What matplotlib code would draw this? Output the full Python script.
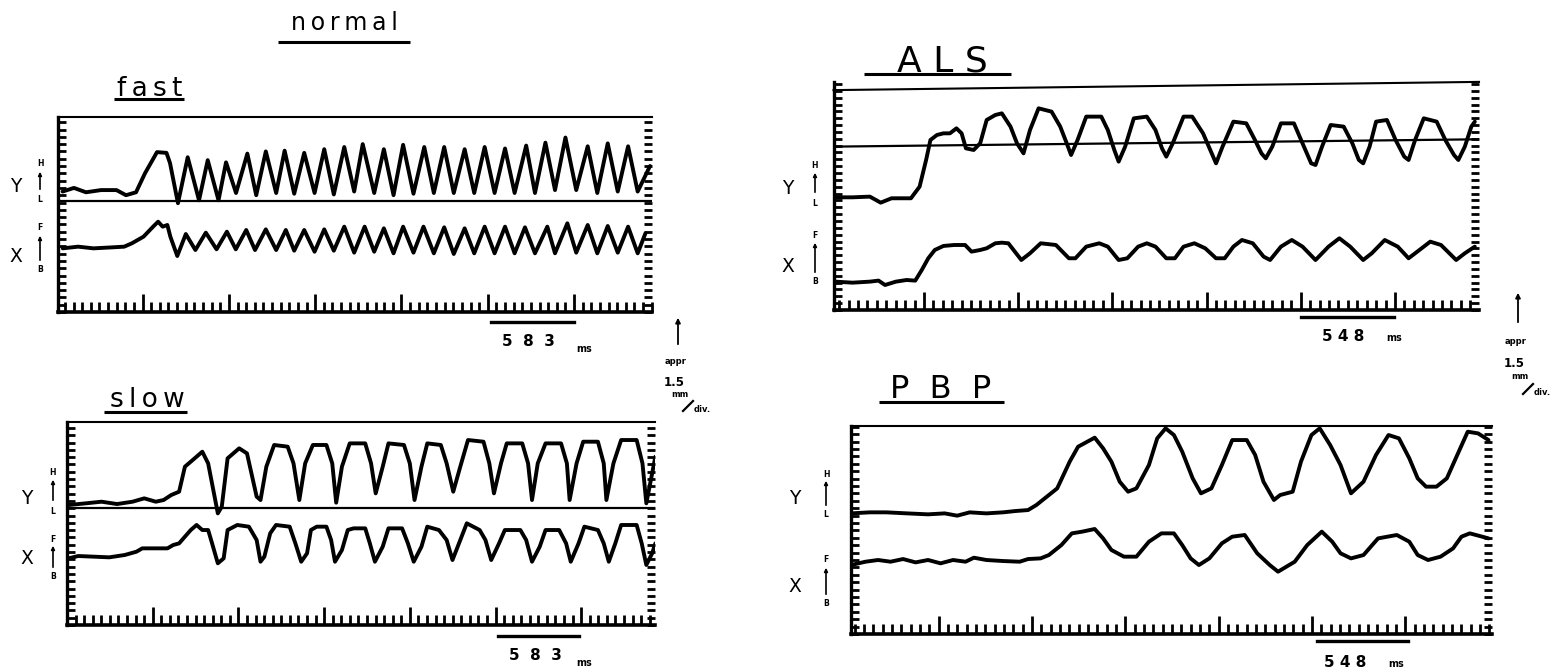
import numpy as np
import matplotlib
matplotlib.use("Agg")
import matplotlib.pyplot as plt
from matplotlib.ticker import FixedLocator, MultipleLocator

W, H = 1563, 672

# traces: (time in ruler divisions, displacement in ruler divisions)
fast_y = [(0.54, 16.5), (1.85, 17.0), (3.24, 16.4), (4.98, 16.7), (6.78, 16.7), (7.88, 16.0),
          (9.04, 16.4), (10.08, 19.0), (11.47, 21.9), (12.57, 21.8), (12.98, 20.4), (13.90, 14.9),
          (15.03, 21.2), (16.34, 15.3), (17.35, 20.8), (18.60, 15.3), (19.47, 20.5), (20.63, 16.3),
          (21.94, 21.7), (22.97, 16.0), (24.08, 22.0), (25.28, 16.3), (26.26, 22.1), (27.37, 16.2),
          (28.53, 21.8), (29.73, 16.3), (30.85, 22.3), (31.96, 16.1), (33.17, 22.6), (34.32, 16.5),
          (35.31, 23.0), (36.64, 16.3), (37.76, 22.3), (38.88, 16.0), (39.99, 22.9), (41.19, 16.2),
          (42.44, 22.6), (43.55, 16.3), (44.75, 22.6), (45.86, 16.3), (47.12, 22.3), (48.23, 16.3),
          (49.44, 22.6), (50.59, 16.3), (51.80, 22.4), (52.91, 16.3), (54.25, 22.8), (55.27, 16.3),
          (56.48, 23.2), (57.59, 16.7), (58.80, 23.9), (60.05, 16.7), (61.38, 22.7), (62.49, 16.3),
          (63.70, 23.1), (64.86, 16.5), (66.06, 22.7), (67.17, 16.5), (68.6, 20.0)]
fast_x = [(0.55, 8.72), (2.33, 8.95), (4.11, 8.72), (6.34, 8.86), (7.67, 8.95), (8.56, 9.41),
          (9.91, 10.32), (11.02, 11.69), (11.60, 12.37), (12.13, 11.69), (12.67, 11.92), (13.02, 10.32),
          (13.82, 7.67), (14.81, 10.68), (15.92, 8.49), (17.13, 10.87), (18.37, 8.59), (19.57, 11.0),
          (20.60, 8.59), (21.81, 11.23), (22.83, 8.49), (24.08, 11.32), (25.28, 8.49), (26.40, 11.23),
          (27.37, 8.40), (28.53, 11.23), (29.73, 8.26), (30.85, 11.32), (31.96, 8.40), (33.17, 11.69),
          (34.32, 8.13), (35.53, 11.69), (36.64, 8.26), (37.76, 11.46), (38.88, 8.04), (39.99, 11.69),
          (41.19, 8.13), (42.35, 11.69), (43.55, 8.04), (44.75, 11.60), (45.86, 7.95), (47.12, 11.46),
          (48.23, 8.04), (49.44, 11.69), (50.59, 8.04), (51.80, 11.69), (52.91, 8.04), (54.11, 11.60),
          (55.27, 8.04), (56.70, 11.69), (57.59, 8.04), (59.02, 12.15), (60.05, 8.13), (61.38, 11.92),
          (62.49, 8.04), (63.70, 11.78), (64.86, 8.13), (66.06, 11.69), (67.17, 8.04), (68.07, 10.78)]

slow_y = [(0.18, 16.44), (2.22, 16.67), (4.03, 16.89), (5.84, 16.57), (7.65, 16.89), (9.01, 17.35),
          (10.36, 16.89), (11.27, 17.12), (12.17, 17.81), (13.08, 18.26), (13.76, 21.69), (14.44, 22.37),
          (15.79, 23.74), (16.47, 22.14), (17.60, 15.29), (18.06, 16.21), (18.74, 22.83), (20.09, 24.20),
          (21.0, 23.51), (22.13, 17.58), (22.58, 17.12), (23.26, 21.69), (24.17, 24.66), (25.75, 24.43),
          (26.43, 22.14), (27.11, 17.12), (27.79, 22.14), (28.69, 24.66), (30.27, 24.66), (30.95, 22.14),
          (31.41, 16.76), (32.08, 21.69), (32.99, 24.88), (34.80, 24.88), (35.48, 22.14), (36.02, 18.03),
          (36.84, 21.69), (37.51, 24.88), (39.32, 24.66), (40.0, 22.14), (40.55, 17.12), (41.36, 21.69),
          (42.04, 24.88), (43.62, 24.66), (44.30, 22.14), (45.07, 18.26), (45.89, 21.69), (46.79, 25.34),
          (48.60, 25.11), (49.28, 22.14), (49.82, 18.03), (50.64, 22.14), (51.31, 24.88), (53.12, 24.88),
          (53.80, 22.14), (54.26, 17.12), (54.93, 22.14), (55.84, 24.88), (57.65, 24.88), (58.33, 22.14),
          (58.65, 17.12), (59.46, 22.14), (60.23, 25.11), (61.95, 25.11), (62.63, 22.14), (62.94, 17.12),
          (63.76, 22.14), (64.66, 25.34), (66.47, 25.34), (67.15, 22.14), (67.60, 16.67), (68.28, 20.77),
          (68.65, 23.06)]
slow_x = [(0.18, 9.13), (1.31, 9.45), (3.12, 9.36), (4.93, 9.27), (6.74, 9.59), (8.10, 10.04),
          (8.78, 10.50), (11.72, 10.50), (12.40, 10.96), (13.08, 11.18), (13.76, 12.10), (14.44, 13.01),
          (15.12, 13.70), (15.79, 13.01), (16.47, 13.01), (16.93, 11.18), (17.60, 8.45), (18.28, 9.13),
          (18.74, 13.01), (19.87, 13.70), (21.22, 13.47), (22.13, 11.64), (22.58, 8.67), (23.03, 9.36),
          (23.71, 12.56), (24.39, 13.70), (25.98, 13.47), (26.65, 11.18), (27.33, 8.67), (28.01, 9.82),
          (28.46, 13.01), (29.14, 13.47), (30.27, 13.47), (30.82, 11.64), (31.27, 8.67), (32.08, 10.27),
          (32.76, 13.01), (33.44, 13.24), (34.80, 13.24), (35.34, 11.18), (35.93, 8.67), (36.84, 10.73),
          (37.51, 13.24), (39.10, 13.24), (39.78, 11.18), (40.46, 8.67), (41.36, 10.73), (42.04, 13.47),
          (43.40, 13.01), (44.30, 11.64), (44.98, 8.90), (45.89, 11.64), (46.65, 13.93), (48.15, 13.01),
          (48.83, 11.64), (49.50, 8.90), (50.41, 11.18), (51.09, 13.01), (52.90, 13.01), (53.58, 11.64),
          (54.26, 8.67), (55.16, 10.73), (55.84, 13.01), (57.43, 13.01), (58.24, 11.18), (58.78, 8.67),
          (59.69, 11.18), (60.37, 13.47), (61.95, 13.01), (62.63, 11.18), (63.22, 8.67), (63.98, 11.18),
          (64.66, 13.70), (66.47, 13.70), (67.06, 11.18), (67.60, 8.22), (68.28, 9.82), (68.65, 11.18)]

als_y = [(0.19, 16.45), (2.02, 16.45), (3.86, 16.55), (5.01, 15.67), (6.16, 16.31), (8.22, 16.31),
         (9.14, 18.01), (9.83, 21.90), (10.29, 24.82), (10.98, 25.55), (11.67, 25.79), (12.36, 25.79),
         (13.05, 26.52), (13.60, 25.79), (14.06, 23.60), (14.88, 23.36), (15.57, 24.33), (16.26, 27.74),
         (17.18, 28.47), (17.87, 28.71), (18.79, 26.77), (19.48, 24.33), (20.17, 22.87), (20.86, 26.28),
         (21.77, 29.44), (23.15, 28.96), (24.07, 26.77), (24.76, 24.33), (25.22, 22.63), (25.91, 24.82),
         (26.83, 28.23), (28.43, 28.23), (29.12, 26.28), (29.81, 23.36), (30.27, 21.66), (30.96, 23.85),
         (31.88, 27.98), (33.26, 28.23), (34.18, 26.28), (34.87, 23.60), (35.33, 22.39), (36.01, 24.33),
         (37.16, 28.23), (38.08, 28.23), (39.23, 25.79), (40.15, 22.87), (40.61, 21.41), (41.30, 23.85),
         (42.45, 27.50), (43.82, 27.25), (44.74, 24.82), (45.43, 22.87), (45.89, 22.14), (46.58, 23.85),
         (47.50, 27.25), (48.88, 27.25), (49.79, 24.33), (50.71, 21.41), (51.17, 21.17), (51.86, 23.85),
         (52.78, 27.01), (54.16, 26.77), (55.08, 24.33), (55.77, 21.90), (56.23, 21.41), (56.91, 23.85),
         (57.60, 27.50), (58.75, 27.74), (59.67, 24.82), (60.59, 22.39), (61.05, 21.90), (61.74, 24.82),
         (62.66, 27.98), (64.03, 27.50), (64.95, 24.82), (65.87, 22.63), (66.33, 21.90), (67.02, 23.85),
         (67.71, 26.77), (68.08, 27.50)]
als_x = [(0.19, 4.14), (2.02, 3.99), (3.86, 4.14), (4.78, 4.29), (5.47, 3.65), (6.62, 4.14),
         (7.76, 4.38), (8.68, 4.29), (9.37, 5.84), (10.06, 7.55), (10.75, 8.76), (11.67, 9.35),
         (12.82, 9.49), (13.97, 9.49), (14.65, 8.52), (15.57, 8.76), (16.26, 9.01), (17.18, 9.74),
         (17.87, 9.83), (18.56, 9.74), (19.94, 7.30), (20.86, 8.28), (22.00, 9.74), (23.61, 9.49),
         (24.99, 7.55), (25.68, 7.55), (26.83, 9.25), (28.21, 9.74), (29.12, 9.25), (30.27, 7.30),
         (31.19, 7.55), (32.34, 9.25), (33.26, 9.74), (34.18, 9.25), (35.33, 7.55), (36.24, 7.55),
         (37.16, 9.25), (38.31, 9.74), (39.46, 9.01), (40.61, 7.55), (41.53, 7.55), (42.45, 9.25),
         (43.36, 10.22), (44.51, 9.74), (45.66, 7.79), (46.35, 7.30), (47.50, 9.25), (48.65, 10.22),
         (49.79, 9.25), (51.17, 7.30), (52.55, 9.25), (53.70, 10.47), (54.85, 9.25), (56.23, 7.30),
         (57.14, 8.28), (58.52, 10.22), (59.90, 9.25), (61.05, 7.55), (62.20, 8.76), (63.35, 9.98),
         (64.49, 9.49), (66.10, 7.30), (67.02, 8.28), (68.08, 9.25)]

pbp_y = [(0.0, 16.30), (2.0, 16.44), (3.79, 16.44), (6.02, 16.30), (8.26, 16.17), (10.04, 16.30),
         (11.38, 15.99), (12.72, 16.44), (14.51, 16.30), (16.30, 16.44), (17.64, 16.62), (18.98, 16.75),
         (19.87, 17.43), (21.21, 18.78), (22.10, 19.68), (23.44, 23.29), (24.34, 25.31), (26.12, 26.53),
         (27.02, 25.09), (27.91, 23.29), (28.80, 20.58), (29.70, 19.23), (30.59, 19.68), (31.93, 22.83),
         (32.82, 26.44), (33.72, 27.79), (34.61, 26.89), (35.50, 24.64), (36.62, 21.03), (37.51, 19.01),
         (38.63, 19.68), (39.75, 22.83), (40.86, 26.21), (42.42, 26.21), (43.32, 24.19), (44.21, 20.58),
         (45.33, 18.11), (46.0, 18.78), (47.34, 19.23), (48.23, 23.29), (49.35, 26.89), (50.24, 27.79),
         (51.36, 25.53), (52.47, 22.83), (53.59, 19.01), (54.93, 20.58), (56.27, 24.19), (57.61, 26.89),
         (58.73, 26.44), (59.84, 23.74), (60.74, 21.03), (61.63, 19.91), (62.75, 19.91), (63.86, 21.03),
         (64.98, 24.19), (66.10, 27.34), (67.21, 27.11), (68.33, 26.21)]
pbp_x = [(0.0, 9.32), (1.56, 9.77), (2.90, 10.0), (4.24, 9.77), (5.58, 10.13), (6.92, 9.68),
         (8.26, 10.0), (9.60, 9.55), (10.94, 10.0), (12.28, 9.77), (13.17, 10.31), (14.51, 10.0),
         (16.30, 9.86), (18.08, 9.77), (18.98, 10.13), (20.32, 10.22), (21.21, 10.67), (22.55, 12.02),
         (23.67, 13.60), (24.78, 13.83), (26.12, 14.19), (27.02, 12.92), (27.91, 11.35), (29.25, 10.45),
         (30.59, 10.45), (31.93, 12.47), (33.27, 13.60), (34.61, 13.60), (35.50, 12.02), (36.40, 10.22),
         (37.29, 9.32), (38.41, 10.22), (39.75, 12.25), (40.86, 13.15), (42.20, 13.38), (43.54, 10.90),
         (44.88, 9.32), (45.77, 8.42), (46.67, 9.10), (47.56, 9.77), (48.90, 12.02), (50.46, 13.83),
         (51.58, 12.47), (52.47, 10.90), (53.59, 10.22), (54.93, 10.67), (56.49, 12.92), (58.50, 13.38),
         (59.84, 12.47), (60.74, 10.67), (61.85, 10.0), (63.19, 10.45), (64.53, 11.57), (65.43, 13.15),
         (66.32, 13.60), (67.66, 13.15), (68.33, 12.92)]

# reference (zero) lines, left and right end
fast_ref = [15.2, 15.2]
slow_ref = [16.07, 16.07]
als_ref = [23.85, 24.92]
als_top = [32.1, 33.3]

# time scale bars (divisions) and their labels
fast_bar = [50.2, 59.8]
slow_bar = [50.3, 59.7]
als_bar = [49.6, 59.5]
pbp_bar = [49.9, 59.7]
normal_scale = "5  8  3"
patient_scale = "5 4 8"

fig = plt.figure(figsize=(W / 100, H / 100), dpi=100)
plt.rcParams["font.family"] = ["DejaVu Sans"]

ov = fig.add_axes([0, 0, 1, 1])
ov.set_xlim(0, W)
ov.set_ylim(H, 0)
ov.axis("off")


def panel(left, right, top, bottom, px_x, px_y, tick0, top_spine=True):
    ax = fig.add_axes([left / W, 1 - bottom / H, (right - left) / W, (bottom - top) / H])
    xmax = (right - left) / px_x
    ymax = (bottom - top) / px_y
    ax.set_xlim(0, xmax)
    ax.set_ylim(0, ymax)
    ax.patch.set_alpha(0)
    ax.spines["left"].set_linewidth(2.4)
    ax.spines["bottom"].set_linewidth(2.6)
    ax.spines["top"].set_linewidth(1.5)
    ax.spines["top"].set_visible(top_spine)
    ax.spines["right"].set_visible(False)
    ax.xaxis.set_major_locator(FixedLocator(np.arange(tick0, xmax, 10)))
    ax.xaxis.set_minor_locator(FixedLocator(np.arange(tick0 % 1, xmax, 1)))
    ax.yaxis.set_major_locator(MultipleLocator(1))
    ax.tick_params(axis="x", which="both", direction="in", bottom=True, top=False,
                   labelbottom=False, width=2.0)
    ax.tick_params(axis="x", which="major", length=13)
    ax.tick_params(axis="x", which="minor", length=7)
    ax.tick_params(axis="y", which="major", direction="in", left=True, right=True,
                   labelleft=False, length=5.5, width=2.0)
    return ax, xmax


def trace(ax, pts):
    t, v = zip(*pts)
    ax.plot(t, v, color="black", lw=2.8, solid_joinstyle="round", solid_capstyle="round")


def bar(ax, xs, bottom, top, bar_py):
    yb = (bottom - bar_py) / (bottom - top)
    ax.plot(xs, [yb, yb], color="black", lw=2.4, transform=ax.get_xaxis_transform(), clip_on=False)


def side(xbig, xsmall, y_big, x_big, hl, fb):
    ov.text(xbig, y_big, "Y", fontsize=13.5, ha="center", va="center")
    ov.text(xbig, x_big, "X", fontsize=13.5, ha="center", va="center")
    for letters, ys in ((("H", "L"), hl), (("F", "B"), fb)):
        ov.text(xsmall, ys[0], letters[0], fontsize=5.5, weight="bold", ha="center", va="center")
        ov.text(xsmall, ys[3], letters[1], fontsize=5.5, weight="bold", ha="center", va="center")
        ov.annotate("", xy=(xsmall, ys[2]), xytext=(xsmall, ys[1]),
                    arrowprops=dict(arrowstyle="-|>", lw=1.2, color="black", mutation_scale=5))


def title(x, y, s, size, ux0, ux1, uy):
    ov.text(x, y, s, fontsize=size, ha="center", va="baseline")
    ov.plot([ux0, ux1], [uy, uy], color="black", lw=2.2, solid_capstyle="butt")


def scale_text(x, y, digits, ms_dx, ms_dy):
    ov.text(x, y, digits, fontsize=11, weight="bold", ha="left", va="baseline")
    ov.text(x + ms_dx, y + ms_dy, "ms", fontsize=7, weight="bold", ha="left", va="baseline")


def mm_note(x, head, tail, y_appr, y15, y_mm, y_div):
    ov.annotate("", xy=(x, head), xytext=(x, tail),
                arrowprops=dict(arrowstyle="-|>", lw=1.3, color="black", mutation_scale=7))
    ov.text(x - 2, y_appr, "appr", fontsize=6, weight="bold", ha="center", va="baseline")
    ov.text(x - 4, y15, "1.5", fontsize=8.5, weight="bold", ha="center", va="baseline")
    ov.text(x + 2, y_mm, "mm", fontsize=6, weight="bold", ha="center", va="baseline")
    ov.plot([x + 5, x + 15], [y_div - 1, y_div - 11], color="black", lw=1.6)
    ov.text(x + 16, y_div, "div.", fontsize=6, weight="bold", ha="left", va="baseline")


# normal, fast
ax, xmax = panel(58, 652, 117, 312, 8.63, 7.3, 9.8)
ax.plot([0, xmax], fast_ref, color="black", lw=1.6)
trace(ax, fast_y)
trace(ax, fast_x)
bar(ax, fast_bar, 312, 117, 321.7)

# normal, slow
ax, xmax = panel(67, 655, 422, 625, 8.57, 7.3, 10.0)
ax.plot([0, xmax], slow_ref, color="black", lw=1.6)
trace(ax, slow_y)
trace(ax, slow_x)
bar(ax, slow_bar, 625, 422, 636)

# ALS
ax, xmax = panel(833.5, 1479, 82, 310, 9.42, 6.85, 9.6, top_spine=False)
ax.plot([0, xmax], als_top, color="black", lw=1.5, clip_on=False)
ax.plot([0, xmax], als_ref, color="black", lw=1.6)
trace(ax, als_y)
trace(ax, als_x)
bar(ax, als_bar, 310, 82, 316.7)

# PBP
ax, xmax = panel(851, 1492, 426, 634, 9.33, 7.4, 9.4)
trace(ax, pbp_y)
trace(ax, pbp_x)
bar(ax, pbp_bar, 634, 426, 641)

# titles
title(344, 30, "n\u2009o\u2009r\u2009m\u2009a\u2009l", 17, 278, 410, 41.7)
title(150, 96, "f\u2009a\u2009s\u2009t", 19, 114, 184, 98.5)
title(147, 407, "s\u2009l\u2009o\u2009w", 19, 104, 187, 412)
title(942, 71, "A L S", 26, 864, 1011, 73.5)
title(941, 398, "P  B  P", 23, 879, 1004, 402)

# side labels: (top letter y, arrow tail y, arrow head y, bottom letter y)
side(16, 40, 187, 257, (164, 192, 169, 200), (228, 263, 233, 270))
side(27, 53, 498, 558, (472.5, 503, 477, 511.5), (539.5, 570, 543, 576.5))
side(788, 815, 188, 267, (165, 195, 170, 203), (235.5, 275, 240, 281.5))
side(795, 826, 498, 587, (474.5, 508, 478, 514.5), (559.5, 597, 565, 603.5))

# scale labels
scale_text(502, 346, normal_scale, 74, 6)
scale_text(509, 660, normal_scale, 67, 6)
scale_text(1322, 341, patient_scale, 64, 0)
scale_text(1324, 667, patient_scale, 64, 0)

# amplitude calibration notes
mm_note(678, 315, 347, 364, 386, 397, 412)
mm_note(1518, 290, 325, 344, 367, 379, 395)

fig.savefig("out.png", dpi=100)
